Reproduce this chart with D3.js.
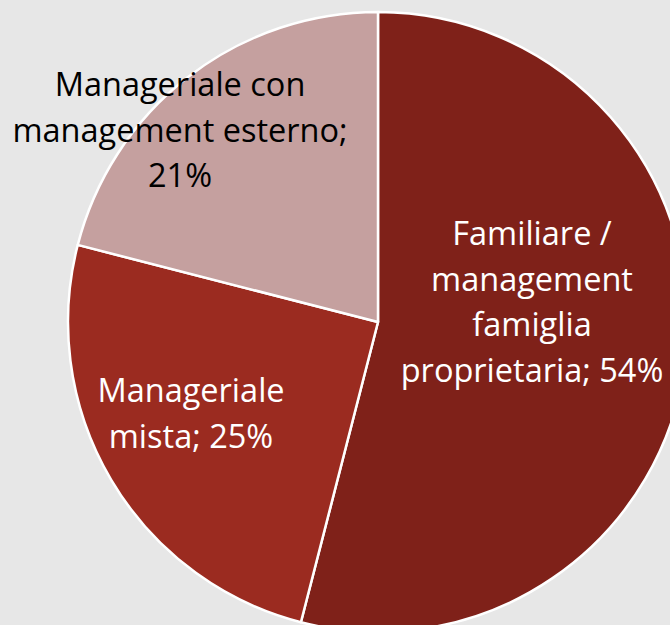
<!DOCTYPE html>
<html>
<head>
<meta charset="utf-8">
<script src="https://cdn.jsdelivr.net/npm/d3@7"></script>
<style>
  html, body { margin: 0; padding: 0; background: #e7e7e7; }
  svg { display: block; }
  text { font-family: "Open Sans", Lato, sans-serif; }
</style>
</head>
<body>
<div id="chart"></div>
<script>
// data
const categories = ["Familiare / management famiglia proprietaria", "Manageriale mista", "Manageriale con management esterno"];
const values = [54, 25, 21];
const labelLines = [
  ["Familiare /", "management", "famiglia", "proprietaria; 54%"],
  ["Manageriale", "mista; 25%"],
  ["Manageriale con", "management esterno;", "21%"]
];

const colors = ["#7f2119", "#9b2b20", "#c5a09f"];
const textColors = ["#ffffff", "#ffffff", "#000000"];
// label centre relative to the pie centre (dx, dy of the first baseline)
const labelAnchor = [[154, 245 - 322], [-187, 402 - 322], [-198, 96 - 322]];

const width = 670, height = 625;
const cx = 378, cy = 322, radius = 310;
const lineH = 45.5;

const svg = d3.select("#chart")
  .append("svg")
  .attr("width", width)
  .attr("height", height);

svg.append("rect").attr("width", width).attr("height", height).attr("fill", "#e7e7e7");

const g = svg.append("g").attr("transform", "translate(" + cx + "," + cy + ")");

const pie = d3.pie().sort(null).value(d => d)(values);
const arc = d3.arc().innerRadius(0).outerRadius(radius);

g.selectAll("path.slice")
  .data(pie).enter()
  .append("path")
  .attr("class", "slice")
  .attr("d", arc)
  .attr("fill", (d, i) => colors[i])
  .attr("stroke", "#ffffff")
  .attr("stroke-width", 2.5)
  .attr("stroke-linejoin", "round");

const labels = g.selectAll("text.lbl")
  .data(pie).enter()
  .append("text")
  .attr("class", "lbl")
  .attr("text-anchor", "middle")
  .attr("font-size", 32.5)
  .attr("fill", (d, i) => textColors[i])
  .attr("x", (d, i) => labelAnchor[i][0])
  .attr("y", (d, i) => labelAnchor[i][1]);

labels.each(function (d, i) {
  const t = d3.select(this);
  labelLines[i].forEach((line, j) => {
    t.append("tspan")
      .attr("x", labelAnchor[i][0])
      .attr("y", labelAnchor[i][1] + j * lineH)
      .text(line);
  });
});
</script>
</body>
</html>
